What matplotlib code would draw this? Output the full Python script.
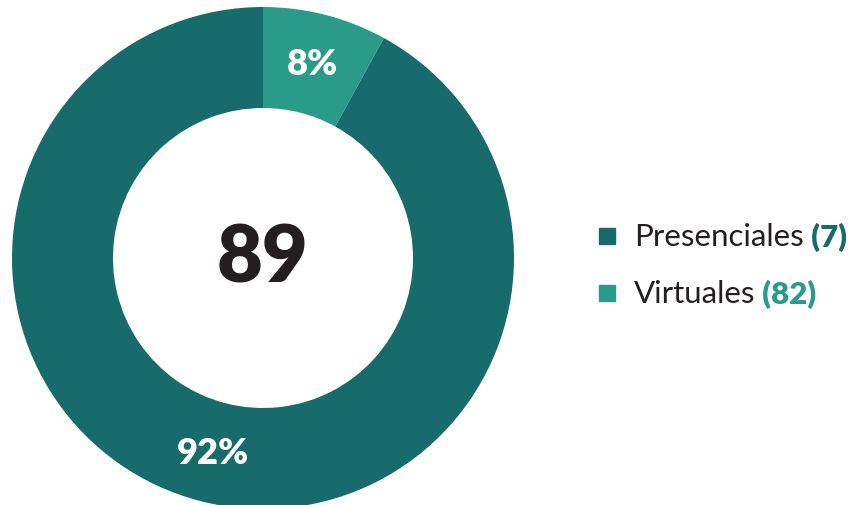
import matplotlib.pyplot as plt
from matplotlib.patches import Rectangle

# data
labels = ["Presenciales", "Virtuales"]
counts = [7, 82]
shares = [8, 92]          # slice sizes as shown: light 8%, dark 92%
total = 89
dark = "#176b6b"
light = "#2b9b89"
slice_colors = [light, dark]
legend_colors = [dark, light]

plt.rcParams['font.family'] = ['Lato', 'DejaVu Sans']

fig = plt.figure(figsize=(8.53, 5.06), dpi=100)
ax = fig.add_axes([0, 0, 1, 1])

wedges, texts, autotexts = ax.pie(
    shares, colors=slice_colors, startangle=90, counterclock=False,
    center=(263, 247), radius=251, autopct='%d%%', pctdistance=0.8,
    wedgeprops=dict(width=101, edgecolor='none'),
    textprops=dict(color='white', fontsize=26, fontweight='heavy'))
ax.set_xlim(0, 853)
ax.set_ylim(0, 506)
ax.set_aspect('equal')
ax.axis('off')

ax.text(263, 247, str(total), ha='center', va='center', fontsize=57,
        fontweight='heavy', color='#231f20')

# legend
ys = [269, 212]
for lab, n, c, y in zip(labels, counts, legend_colors, ys):
    ax.add_patch(Rectangle((599, y - 8), 16, 16, color=c))
    t = ax.text(634, y, lab, ha='left', va='center', fontsize=22.5, color='#231f20')
    ax.annotate(" (%d)" % n, xy=(1, 0.5), xycoords=t, ha='left', va='center',
                fontsize=22.5, fontweight='heavy', color=c)

plt.savefig('out.png', dpi=100)
